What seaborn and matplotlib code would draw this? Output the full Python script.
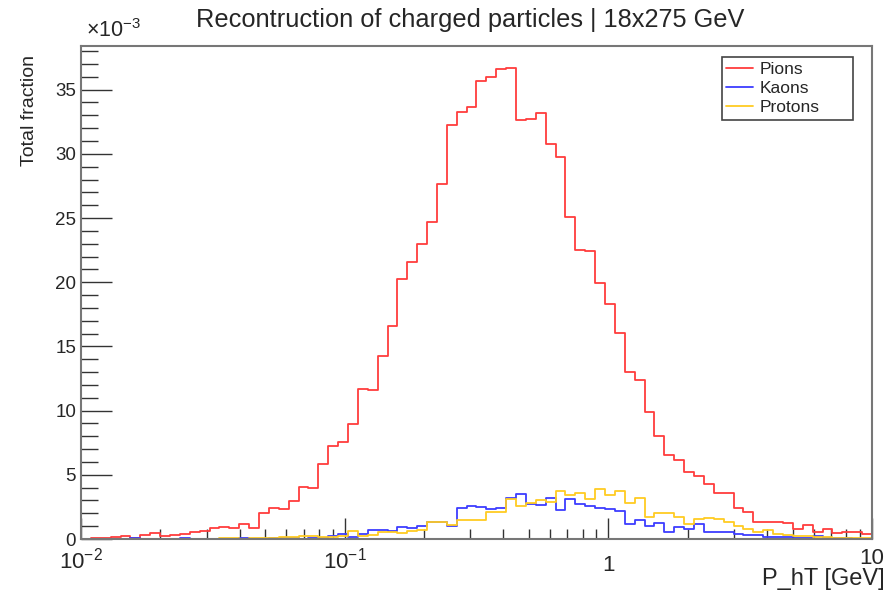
import numpy as np
import pandas as pd
import matplotlib
matplotlib.use("Agg")
import matplotlib.pyplot as plt
import matplotlib.patches as mpatches
import matplotlib.transforms as mtransforms
from matplotlib.ticker import MultipleLocator, FixedLocator, NullFormatter
import seaborn as sns

# 80 log-spaced bins in P_hT between 10^-2 and 10 GeV
n_bins = 80
pt_min, pt_max = 1e-2, 10.0

# Fractions per bin, in units of 10^-3
pions = [0.03, 0.04, 0.08, 0.12, 0.26, 0.07, 0.35, 0.50, 0.26, 0.35,
         0.39, 0.55, 0.64, 0.85, 0.96, 0.88, 1.20, 0.85, 2.05, 2.43,
         2.31, 2.97, 4.05, 4.00, 5.83, 7.21, 7.53, 8.98, 11.69, 11.64,
         14.24, 16.59, 20.29, 21.59, 22.97, 24.71, 27.63, 32.27, 33.26, 33.65,
         35.68, 35.99, 36.64, 36.72, 32.66, 32.73, 33.20, 30.78, 29.79, 25.05,
         22.53, 22.40, 19.95, 18.28, 16.02, 13.00, 12.37, 9.87, 8.05, 6.51,
         6.17, 5.18, 4.87, 4.27, 3.57, 3.57, 2.45, 2.14, 1.35, 1.35,
         1.30, 1.22, 0.81, 1.09, 0.55, 0.81, 0.44, 0.52, 0.57, 0.42]

kaons = [0.00, 0.00, 0.00, 0.00, 0.00, 0.06, 0.00, 0.00, 0.00, 0.00,
         0.05, 0.02, 0.02, 0.02, 0.02, 0.02, 0.07, 0.02, 0.02, 0.04,
         0.04, 0.04, 0.03, 0.05, 0.10, 0.22, 0.37, 0.12, 0.38, 0.73,
         0.72, 0.62, 0.93, 0.88, 1.04, 1.36, 1.36, 1.03, 2.45, 2.57,
         2.50, 2.35, 2.42, 3.16, 3.50, 2.72, 2.66, 3.18, 2.27, 3.15,
         2.73, 2.55, 2.43, 2.30, 2.20, 1.20, 1.48, 1.03, 1.23, 0.58,
         0.94, 0.80, 1.17, 0.57, 0.52, 0.52, 0.39, 0.31, 0.31, 0.18,
         0.13, 0.13, 0.05, 0.07, 0.22, 0.05, 0.05, 0.04, 0.03, 0.03]

protons = [0.00, 0.00, 0.00, 0.00, 0.00, 0.00, 0.00, 0.00, 0.03, 0.00,
           0.00, 0.03, 0.02, 0.02, 0.04, 0.04, 0.02, 0.04, 0.05, 0.05,
           0.12, 0.12, 0.20, 0.26, 0.15, 0.15, 0.20, 0.60, 0.22, 0.32,
           0.58, 0.55, 0.47, 0.60, 0.73, 1.36, 1.32, 1.08, 1.48, 1.45,
           1.45, 2.10, 2.10, 3.08, 2.55, 2.84, 3.05, 2.90, 3.70, 3.40,
           3.55, 3.15, 3.92, 3.40, 3.70, 2.84, 3.20, 1.75, 2.05, 2.00,
           1.68, 1.17, 1.52, 1.60, 1.52, 1.35, 1.00, 0.76, 0.57, 0.68,
           0.40, 0.31, 0.26, 0.26, 0.18, 0.18, 0.10, 0.10, 0.10, 0.10]

species = ["Pions", "Kaons", "Protons"]
colors = {"Pions": "#ff3d3d", "Kaons": "#3d3dff", "Protons": "#ffcc22"}

x_tick_values = [1e-2, 1e-1, 1, 10]
x_tick_labels = [r"$10^{-2}$", r"$10^{-1}$", "1", "10"]

edges = np.logspace(np.log10(pt_min), np.log10(pt_max), n_bins + 1)

# Step outline: each bin value starts at its lower edge; the last value is
# repeated at the upper edge so the final bin is closed.
frames = []
for name, vals in zip(species, [pions, kaons, protons]):
    y = np.append(vals, vals[-1])
    frames.append(pd.DataFrame({"pt": edges, "frac": y, "species": name}))
df = pd.concat(frames, ignore_index=True)

sns.set_style("white")
plt.rcParams["font.family"] = ["Liberation Sans", "DejaVu Sans"]
plt.rcParams["mathtext.fontset"] = "custom"
plt.rcParams["mathtext.rm"] = "Liberation Sans"
plt.rcParams["mathtext.it"] = "Liberation Sans:italic"
plt.rcParams["mathtext.bf"] = "Liberation Sans:bold"

fig = plt.figure(figsize=(8.89, 5.96), dpi=100)
ax = fig.add_axes([81 / 889, 57 / 596, 791 / 889, 493 / 596])

sns.lineplot(data=df, x="pt", y="frac", hue="species", hue_order=species,
             palette=colors, drawstyle="steps-post", linewidth=1.3,
             errorbar=None, legend=False, ax=ax)

ax.set_xscale("log")
ax.set_xlim(pt_min, pt_max)
ax.set_ylim(0, 38.4)

# ROOT-like ticks: inside, only on left and bottom
ax.xaxis.set_major_locator(FixedLocator(x_tick_values))
ax.set_xticklabels(x_tick_labels)
minor = [m * 10.0 ** e for e in (-2, -1, 0) for m in range(2, 10)]
ax.xaxis.set_minor_locator(FixedLocator(minor))
ax.xaxis.set_minor_formatter(NullFormatter())
ax.yaxis.set_major_locator(MultipleLocator(5))
ax.yaxis.set_minor_locator(MultipleLocator(1))
ax.tick_params(axis="both", which="both", direction="in", top=False, right=False,
               bottom=True, left=True, color="#333333", width=1.0)
ax.tick_params(axis="x", which="major", length=15, pad=6.5, labelsize=16)
ax.tick_params(axis="x", which="minor", length=7)
ax.tick_params(axis="y", which="major", length=22, pad=3.5, labelsize=13.5)
ax.tick_params(axis="y", which="minor", length=12)

# plain labels sit a little lower than the power-of-ten ones
drop = mtransforms.ScaledTranslation(0, -5 / 72, fig.dpi_scale_trans)
for lbl in ax.get_xticklabels():
    if lbl.get_text() == "1":
        lbl.set_transform(lbl.get_transform() + drop)

for side in ax.spines.values():
    side.set_color("#777777")
    side.set_linewidth(1.5)

ax.set_xlabel("")
ax.set_ylabel("")
fig.text(885 / 889, 1 - 579 / 596, "P_hT [GeV]", ha="right", va="center", fontsize=17)
fig.text(30 / 889, 1 - 55 / 596, "Total fraction", rotation=90, ha="center", va="top",
         fontsize=14)
fig.text(86 / 889, 1 - 31 / 596, r"$\times10^{-3}$", ha="left", va="center", fontsize=15.5)
fig.text(470 / 889, 1 - 20 / 596, "Recontruction of charged particles | 18x275 GeV",
         ha="center", va="center", fontsize=18.3)

# Legend entries from the drawn lines, inside a fixed ROOT-style box
handles = ax.get_lines()[:3]
leg = fig.legend(handles, species, loc="upper left",
                 bbox_to_anchor=(722 / 889, 1 - 58 / 596), frameon=False,
                 fontsize=12.5, handlelength=1.55, handletextpad=0.35,
                 borderpad=0.25, labelspacing=0.22, borderaxespad=0)
fig.add_artist(mpatches.Rectangle((722 / 889, 1 - 120 / 596), 131 / 889, 63 / 596,
                                  transform=fig.transFigure, fill=False,
                                  edgecolor="#444444", linewidth=1.2))

fig.savefig("out.png", dpi=100, facecolor="white")
